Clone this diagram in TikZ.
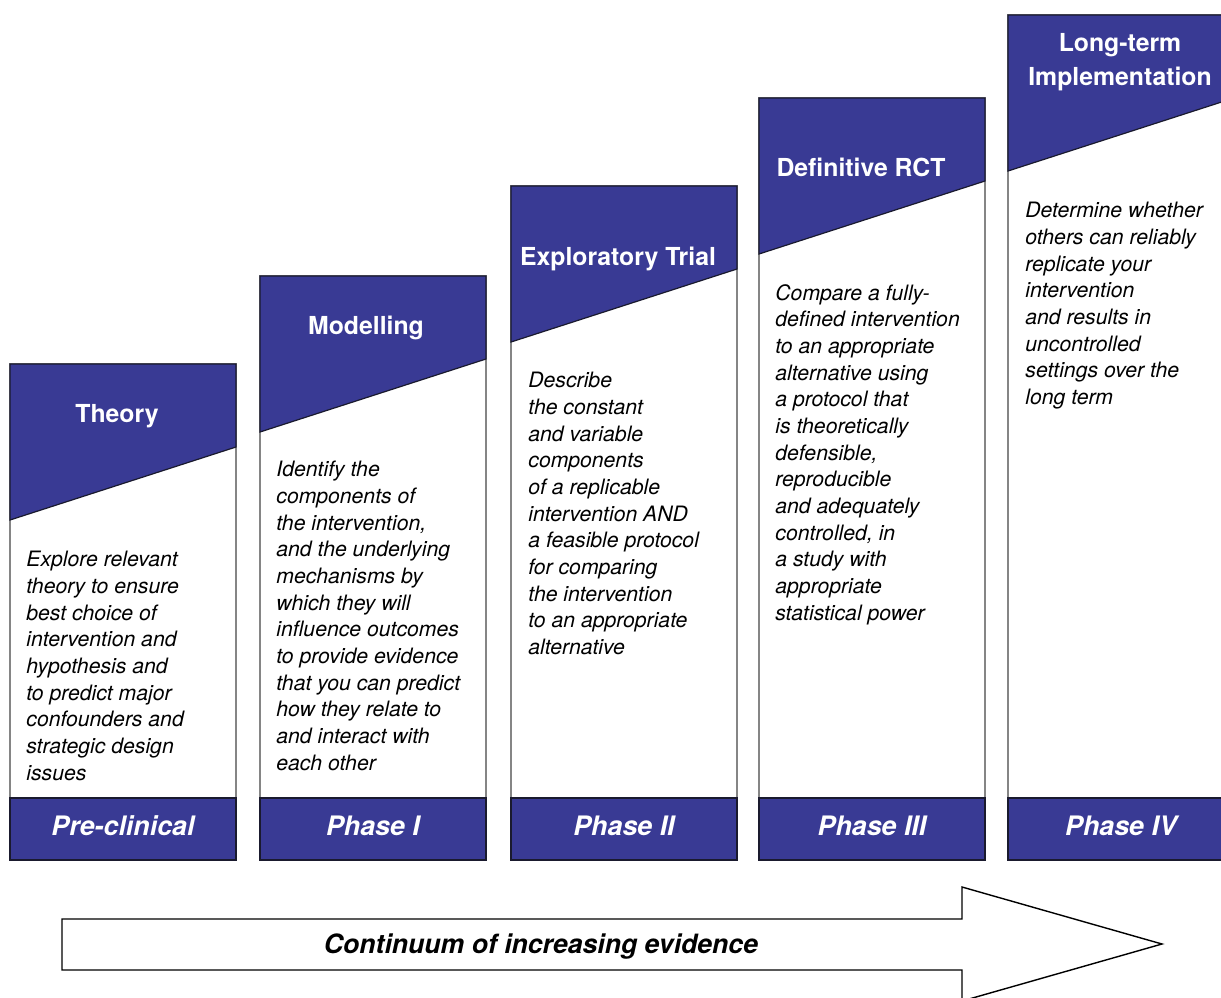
\documentclass[tikz,border=0pt]{standalone}
\usepackage{fontspec}
\setmainfont{TeX Gyre Heros}
\usepackage{xcolor}
\usepackage{tikz}
\definecolor{phaseBlue}{HTML}{393A94}
\definecolor{phaseGreyLine}{HTML}{858585}
\definecolor{headLine}{HTML}{1A1A2E}
\tikzset{
  phasebody/.style={draw=phaseGreyLine, fill=white, line width=1pt},
  phasehead/.style={draw=headLine, fill=phaseBlue, line width=0.6pt, line join=miter},
  phasetitle/.style={font=\bfseries\fontsize{12.4}{17.3}\selectfont, text=white, align=center, inner sep=0pt},
  phasetext/.style={font=\itshape\fontsize{10.6}{13.33}\selectfont, align=left, anchor=north west, inner sep=0pt},
  phaselabel/.style={rectangle, draw=headLine, fill=phaseBlue, line width=0.6pt, font=\bfseries\itshape\fontsize{13.4}{16}\selectfont, text=white, minimum width=113pt, minimum height=31pt, inner sep=0pt, text height=9.7pt, text depth=3pt},
  evidencearrow/.style={draw=black, fill=white, line width=0.7pt, line join=miter},
}

\begin{document}
\begin{tikzpicture}[x=0.5pt,y=-0.5pt]
  \useasboundingbox (0,0) rectangle (1221,997);

  % Pre-clinical column
  \draw[phasebody] (10,364) rectangle (236,798);
  \draw[phasehead] (10,364) -- (236,364) -- (236,447) -- (10,520) -- cycle;
  \node[phasetitle] (theory) at (117,416) {Theory};
  \node[phasetext] (theorytxt) at (26,551) {Explore relevant\\theory to ensure\\best choice of\\intervention and\\hypothesis and\\to predict major\\confounders and\\strategic design\\issues};
  \node[phaselabel] (preclin) at (123,829) {Pre-clinical};

  % Phase I column
  \draw[phasebody] (260,276) rectangle (486,798);
  \draw[phasehead] (260,276) -- (486,276) -- (486,359) -- (260,432) -- cycle;
  \node[phasetitle] (model) at (366,328) {Modelling};
  \node[phasetext] (modeltxt) at (276,461) {Identify the\\components of\\the intervention,\\and the underlying\\mechanisms by\\which they will\\influence outcomes\\to provide evidence\\that you can predict\\how they relate to\\and interact with\\each other};
  \node[phaselabel] (phaseone) at (373,829) {Phase I};

  % Phase II column
  \draw[phasebody] (511,186) rectangle (737,798);
  \draw[phasehead] (511,186) -- (737,186) -- (737,269) -- (511,342) -- cycle;
  \node[phasetitle] (explore) at (618,259) {Exploratory Trial};
  \node[phasetext] (exploretxt) at (528,372) {Describe\\the constant\\and variable\\components\\of a replicable\\intervention AND\\a feasible protocol\\for comparing\\the intervention\\to an appropriate\\alternative};
  \node[phaselabel] (phasetwo) at (624,829) {Phase II};

  % Phase III column
  \draw[phasebody] (759,98) rectangle (985,798);
  \draw[phasehead] (759,98) -- (985,98) -- (985,181) -- (759,254) -- cycle;
  \node[phasetitle] (rct) at (861,167) {Definitive RCT};
  \node[phasetext] (rcttxt) at (775,284) {Compare a fully-\\defined intervention\\to an appropriate\\alternative using\\a protocol that\\is theoretically\\defensible,\\reproducible\\and adequately\\controlled, in\\a study with\\appropriate\\statistical power};
  \node[phaselabel] (phasethree) at (872,829) {Phase III};

  % Phase IV column (runs off the right edge)
  \draw[phasebody] (1008,15) rectangle (1234,798);
  \draw[phasehead] (1008,15) -- (1234,15) -- (1234,98) -- (1008,171) -- cycle;
  \node[phasetitle] (longterm) at (1120,62) {Long-term\\Implementation};
  \node[phasetext] (longtermtxt) at (1025,202) {Determine whether\\others can reliably\\replicate your\\intervention\\and results in\\uncontrolled\\settings over the\\long term};
  \node[phaselabel] (phasefour) at (1121,829) {Phase IV};

  % Evidence arrow
  \draw[evidencearrow] (62,919) -- (962,919) -- (962,887) -- (1162,944) -- (962,1001) -- (962,970) -- (62,970) -- cycle;
  \node[font=\bfseries\itshape\fontsize{13.3}{16}\selectfont] (evidence) at (541,947) {Continuum of increasing evidence};
\end{tikzpicture}
\end{document}
